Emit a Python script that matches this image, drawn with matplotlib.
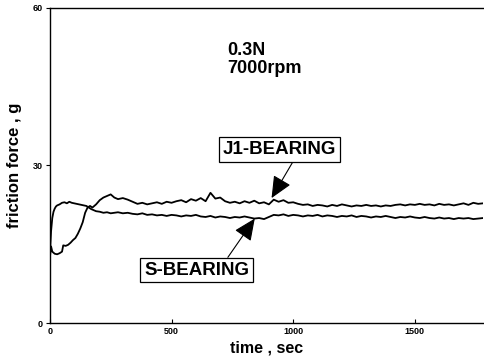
import matplotlib.pyplot as plt

plt.rcParams['font.family'] = ['Liberation Sans', 'DejaVu Sans']

# J1-bearing: slow start, then settles above the S-bearing trace
j1_time = [0, 5, 10, 20, 30, 40, 50, 55, 65, 75,
           85, 95, 105, 115, 125, 135, 145, 155, 165, 175,
           190, 205, 220, 235, 250, 265, 280, 300, 320, 340,
           360, 380, 400, 420, 440, 460, 480, 500]
j1_force = [12.5, 14.6, 13.6, 13.2, 13.1, 13.3, 13.6, 14.8, 14.7, 14.9,
            15.3, 15.8, 16.2, 17.0, 18.0, 19.2, 21.0, 22.0, 22.3, 22.0,
            22.6, 23.4, 23.9, 24.2, 24.5, 23.9, 23.6, 23.8, 23.5, 23.1,
            22.7, 22.9, 22.6, 22.8, 23.0, 22.7, 23.1, 22.9]

# S-bearing: fast rise, then slowly drifts down to about 20 g
s_time = [0, 5, 10, 15, 20, 25, 30, 40, 50, 60,
          70, 80, 90, 100, 110, 120, 130, 140, 150, 160,
          170, 180, 190, 205, 220, 235, 250, 265, 280, 300,
          320, 340, 360, 380, 400, 420, 440, 460, 480, 500]
s_force = [13.0, 17.5, 20.0, 21.2, 21.8, 22.2, 22.4, 22.6, 22.9, 23.0,
           22.8, 23.1, 22.9, 22.8, 22.7, 22.6, 22.5, 22.4, 22.3, 22.0,
           21.7, 21.5, 21.3, 21.2, 21.0, 21.1, 20.9, 21.0, 21.1, 20.9,
           21.0, 20.8, 20.7, 20.9, 20.6, 20.7, 20.5, 20.6, 20.4, 20.6]

# later part, both traces sampled every 20 s
late_time = [520, 540, 560, 580, 600, 620, 640, 660, 680, 700,
             720, 740, 760, 780, 800, 820, 840, 860, 880, 900,
             920, 940, 960, 980, 1000, 1020, 1040, 1060, 1080, 1100,
             1120, 1140, 1160, 1180, 1200, 1220, 1240, 1260, 1280, 1300,
             1320, 1340, 1360, 1380, 1400, 1420, 1440, 1460, 1480, 1500,
             1520, 1540, 1560, 1580, 1600, 1620, 1640, 1660, 1680, 1700,
             1720, 1740, 1760, 1780]
j1_late = [23.2, 23.4, 23.0, 23.6, 23.3, 23.8, 23.2, 24.8, 23.7, 23.9,
           23.2, 22.9, 23.1, 22.8, 23.2, 22.9, 23.3, 22.8, 23.0, 22.6,
           23.5, 23.1, 23.4, 22.9, 23.0, 22.7, 22.5, 22.6, 22.3, 22.5,
           22.4, 22.2, 22.5, 22.3, 22.6, 22.4, 22.2, 22.4, 22.3, 22.5,
           22.3, 22.4, 22.2, 22.4, 22.3, 22.5, 22.6, 22.4, 22.6, 22.5,
           22.7, 22.5, 22.6, 22.4, 22.7, 22.5, 22.6, 22.4, 22.6, 22.8,
           22.5, 22.9, 22.7, 22.8]
s_late = [20.5, 20.3, 20.5, 20.4, 20.6, 20.3, 20.2, 20.4, 20.1, 20.3,
          20.2, 20.0, 20.2, 20.1, 20.3, 20.1, 19.9, 20.0, 19.8, 20.2,
          20.6, 20.5, 20.7, 20.4, 20.6, 20.5, 20.3, 20.5, 20.4, 20.6,
          20.3, 20.5, 20.4, 20.2, 20.4, 20.3, 20.5, 20.2, 20.4, 20.3,
          20.1, 20.3, 20.2, 20.4, 20.2, 20.0, 20.2, 20.1, 20.3, 20.1,
          20.0, 20.2, 20.0, 19.9, 20.1, 19.9, 20.0, 19.8, 20.0, 19.9,
          20.0, 19.8, 19.9, 20.0]

x_ticks = [0, 500, 1000, 1500]
y_ticks = [0, 30, 60]

fig = plt.figure(figsize=(4.84, 3.59), dpi=100)
ax = fig.add_axes([0.103, 0.100, 0.895, 0.878])

ax.plot(j1_time + late_time, j1_force + j1_late, color='black', lw=1.3)
ax.plot(s_time + late_time, s_force + s_late, color='black', lw=1.3)

ax.set_xlim(0, 1780)
ax.set_ylim(0, 60)
ax.set_xticks(x_ticks)
ax.set_yticks(y_ticks)
ax.tick_params(axis='x', direction='in', length=3, labelsize=6.5, pad=3)
ax.tick_params(axis='y', direction='out', length=3, labelsize=6.5, pad=2)
for lab in ax.get_xticklabels() + ax.get_yticklabels():
    lab.set_fontweight('bold')
ax.spines['right'].set_visible(False)
for sp in ax.spines.values():
    sp.set_linewidth(1.0)

ax.set_xlabel("time , sec", fontsize=11.5, fontweight='bold', labelpad=3)
ax.set_ylabel("friction force , g", fontsize=12, fontweight='bold', labelpad=8)

ax.text(730, 53.6, "0.3N\n7000rpm", fontsize=13, fontweight='bold',
        va='top', ha='left', linespacing=1.1)

box = dict(boxstyle='square,pad=0.2', fc='white', ec='black', lw=0.9)
arrow = dict(arrowstyle='-|>,head_length=1.0,head_width=0.45', color='black',
             lw=0.8, shrinkA=0, shrinkB=0)

ax.annotate("J1-BEARING", xy=(911, 23.8), xytext=(942, 33.0),
            fontsize=13.5, fontweight='bold', ha='center', va='center', bbox=box,
            arrowprops=dict(arrow, relpos=(0.64, 0.0)))
ax.annotate("S-BEARING", xy=(842, 19.9), xytext=(603, 10.1),
            fontsize=13.5, fontweight='bold', ha='center', va='center', bbox=box,
            arrowprops=dict(arrow, relpos=(0.77, 1.0)))

fig.savefig("out.png", dpi=100)
